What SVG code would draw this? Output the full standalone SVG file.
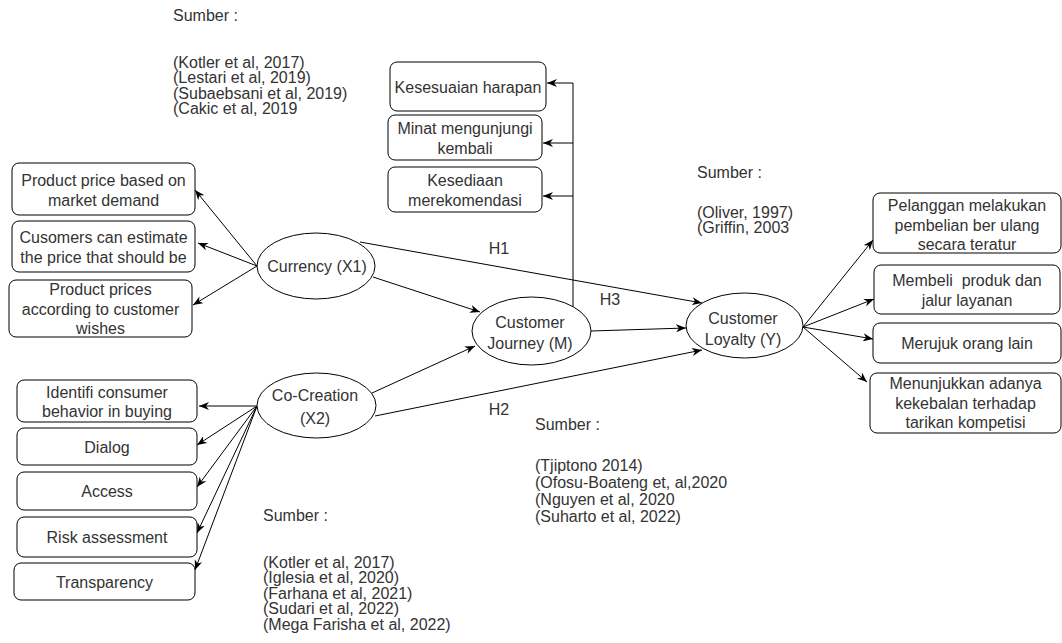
<svg xmlns="http://www.w3.org/2000/svg" width="1062" height="643" viewBox="0 0 1062 643">
<defs>
<style>
.t{font-family:"Liberation Sans",Arial,sans-serif;font-size:16px;fill:#333;white-space:pre}
.c{text-anchor:middle}
.b{fill:#fff;stroke:#000;stroke-width:1}
.e{fill:#fff;stroke:#000;stroke-width:1}
.l{fill:none;stroke:#000;stroke-width:1}
</style>
<marker id="a" markerWidth="11" markerHeight="8" refX="10" refY="4" orient="auto" markerUnits="userSpaceOnUse">
<path d="M0,0 L10,4 L0,8 L3,4 Z" fill="#000"/>
</marker>
</defs>
<rect width="1062" height="643" fill="#fff"/>

<g id="connectors">
<path class="l" d="M257,266 L195,190" marker-end="url(#a)"/>
<path class="l" d="M257,266 L198,243" marker-end="url(#a)"/>
<path class="l" d="M257,266 L193,305" marker-end="url(#a)"/>
<path class="l" d="M257,406 L199,406" marker-end="url(#a)"/>
<path class="l" d="M257,406 L197,445" marker-end="url(#a)"/>
<path class="l" d="M257,406 L197,487" marker-end="url(#a)"/>
<path class="l" d="M257,406 L197,533" marker-end="url(#a)"/>
<path class="l" d="M257,406 L195,570" marker-end="url(#a)"/>
<path class="l" d="M573,307 V83 H547" marker-end="url(#a)"/>
<path class="l" d="M573,143 H543" marker-end="url(#a)"/>
<path class="l" d="M573,196 H543" marker-end="url(#a)"/>
<path class="l" d="M373,277 L480,312" marker-end="url(#a)"/>
<path class="l" d="M372,393 L475,346" marker-end="url(#a)"/>
<path class="l" d="M360,242 L702,303" marker-end="url(#a)"/>
<path class="l" d="M375,416 L702,350" marker-end="url(#a)"/>
<path class="l" d="M591,331 L686,328" marker-end="url(#a)"/>
<path class="l" d="M803,327 L873,240" marker-end="url(#a)"/>
<path class="l" d="M803,327 L874,299" marker-end="url(#a)"/>
<path class="l" d="M803,327 L873,339" marker-end="url(#a)"/>
<path class="l" d="M803,327 L867,382" marker-end="url(#a)"/>
<text class="t c" x="499" y="254">H1</text>
<text class="t c" x="610" y="305">H3</text>
<text class="t c" x="499" y="415">H2</text>
</g>

<g id="currency">
<ellipse class="e" cx="316" cy="266" rx="59" ry="33"/>
<text class="t c" x="317" y="272">Currency (X1)</text>
</g>
<g id="cocreation">
<ellipse class="e" cx="316.5" cy="405.5" rx="59.5" ry="32.5"/>
<text class="t c" x="315" y="401">Co-Creation</text>
<text class="t c" x="315" y="424">(X2)</text>
</g>
<g id="journey">
<ellipse class="e" cx="531.5" cy="331" rx="59.5" ry="34"/>
<text class="t c" x="530" y="328">Customer</text>
<text class="t c" x="530" y="349">Journey (M)</text>
</g>
<g id="loyalty">
<ellipse class="e" cx="744.5" cy="325.5" rx="58.5" ry="32.5"/>
<text class="t c" x="743" y="324">Customer</text>
<text class="t c" x="743" y="345">Loyalty (Y)</text>
</g>

<g id="x1a"><rect class="b" x="12" y="163" width="183" height="52" rx="7"/>
<text class="t c" x="103.5" y="186">Product price based on</text><text class="t c" x="103.5" y="206">market demand</text></g>
<g id="x1b"><rect class="b" x="12" y="221" width="183" height="51" rx="7"/>
<text class="t c" x="103.5" y="243">Cusomers can estimate</text><text class="t c" x="103.5" y="263">the price that should be</text></g>
<g id="x1c"><rect class="b" x="9" y="280" width="183" height="57" rx="7"/>
<text class="t c" x="100.5" y="295">Product prices</text><text class="t c" x="100.5" y="314.5">according to customer</text><text class="t c" x="100.5" y="334">wishes</text></g>

<g id="x2a"><rect class="b" x="17" y="380" width="180" height="42" rx="7"/>
<text class="t c" x="107" y="398">Identifi consumer</text><text class="t c" x="107" y="417">behavior in buying</text></g>
<g id="x2b"><rect class="b" x="17" y="428" width="180" height="37" rx="7"/>
<text class="t c" x="107" y="452.5">Dialog</text></g>
<g id="x2c"><rect class="b" x="17" y="472" width="180" height="38" rx="7"/>
<text class="t c" x="107" y="497">Access</text></g>
<g id="x2d"><rect class="b" x="17" y="517" width="180" height="40" rx="7"/>
<text class="t c" x="107" y="543">Risk assessment</text></g>
<g id="x2e"><rect class="b" x="14" y="563" width="181" height="37" rx="7"/>
<text class="t c" x="104.5" y="587.5">Transparency</text></g>

<g id="ma"><rect class="b" x="390" y="62" width="156" height="49" rx="7"/>
<text class="t c" x="468" y="92.5">Kesesuaian harapan</text></g>
<g id="mb"><rect class="b" x="388" y="115" width="154" height="45" rx="7"/>
<text class="t c" x="465" y="134">Minat mengunjungi</text><text class="t c" x="465" y="154">kembali</text></g>
<g id="mc"><rect class="b" x="388" y="167" width="154" height="45" rx="7"/>
<text class="t c" x="465" y="186">Kesediaan</text><text class="t c" x="465" y="206">merekomendasi</text></g>

<g id="ya"><rect class="b" x="873" y="193" width="188" height="60" rx="7"/>
<text class="t c" x="967" y="211">Pelanggan melakukan</text><text class="t c" x="967" y="231">pembelian ber ulang</text><text class="t c" x="967" y="250">secara teratur</text></g>
<g id="yb"><rect class="b" x="874" y="265" width="186" height="49" rx="7"/>
<text class="t c" x="967" y="286" xml:space="preserve">Membeli  produk dan</text><text class="t c" x="967" y="306">jalur layanan</text></g>
<g id="yc"><rect class="b" x="873" y="323" width="188" height="40" rx="7"/>
<text class="t c" x="967" y="349">Merujuk orang lain</text></g>
<g id="yd"><rect class="b" x="870" y="373" width="191" height="60" rx="7"/>
<text class="t c" x="965.5" y="389">Menunjukkan adanya</text><text class="t c" x="965.5" y="409">kekebalan terhadap</text><text class="t c" x="965.5" y="428">tarikan kompetisi</text></g>

<g id="src-x1">
<text class="t" x="173" y="20.5">Sumber :</text>
<text class="t" x="173" y="67.5">(Kotler et al, 2017)</text>
<text class="t" x="173" y="83">(Lestari et al, 2019)</text>
<text class="t" x="173" y="98.5">(Subaebsani et al, 2019)</text>
<text class="t" x="173" y="114">(Cakic et al, 2019</text>
</g>
<g id="src-y">
<text class="t" x="697" y="177.5">Sumber :</text>
<text class="t" x="697" y="217.5">(Oliver, 1997)</text>
<text class="t" x="697" y="233">(Griffin, 2003</text>
</g>
<g id="src-m">
<text class="t" x="535" y="429.5">Sumber :</text>
<text class="t" x="535" y="470.5">(Tjiptono 2014)</text>
<text class="t" x="535" y="487.5">(Ofosu-Boateng et, al,2020</text>
<text class="t" x="535" y="504.5">(Nguyen et al, 2020</text>
<text class="t" x="535" y="521.5">(Suharto et al, 2022)</text>
</g>
<g id="src-x2">
<text class="t" x="263" y="521">Sumber :</text>
<text class="t" x="263" y="567.5">(Kotler et al, 2017)</text>
<text class="t" x="263" y="583">(Iglesia et al, 2020)</text>
<text class="t" x="263" y="598.5">(Farhana et al, 2021)</text>
<text class="t" x="263" y="614">(Sudari et al, 2022)</text>
<text class="t" x="263" y="629.5">(Mega Farisha et al, 2022)</text>
</g>
</svg>
